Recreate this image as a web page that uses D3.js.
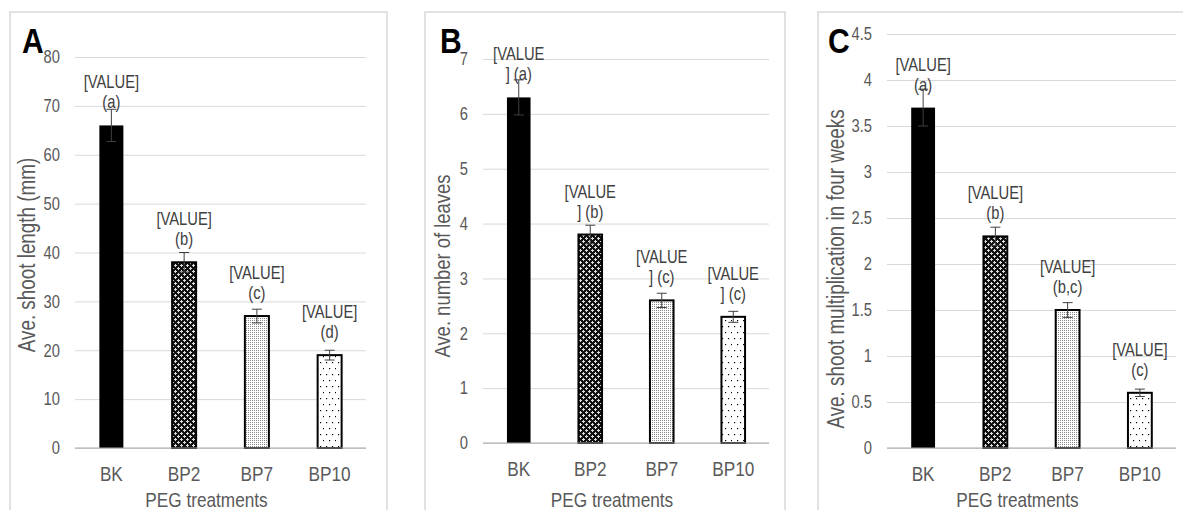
<!DOCTYPE html>
<html>
<head>
<meta charset="utf-8">
<script src="https://cdn.jsdelivr.net/npm/d3@7"></script>
<style>
  body { margin: 0; background: #fff; }
  svg text { font-family: "Liberation Sans", Arial, sans-serif; }
</style>
</head>
<body>
<svg id="chart" width="1183" height="510"></svg>
<script>
// data
const categories = ["BK", "BP2", "BP7", "BP10"];

const shootLength = [66, 38, 27, 19];
const shootLengthErr = [3.3, 2, 1.4, 1];
const shootLengthLetters = ["(a)", "(b)", "(c)", "(d)"];
const shootLengthTicks = [0, 10, 20, 30, 40, 50, 60, 70, 80];

const leaves = [6.3, 3.8, 2.6, 2.3];
const leavesErr = [0.32, 0.17, 0.13, 0.1];
const leavesLetters = ["(a)", "(b)", "(c)", "(c)"];
const leavesTicks = [0, 1, 2, 3, 4, 5, 6, 7];

const multiplication = [3.7, 2.3, 1.5, 0.6];
const multiplicationErr = [0.2, 0.1, 0.08, 0.04];
const multiplicationLetters = ["(a)", "(b)", "(b,c)", "(c)"];
const multiplicationTicks = [0, 0.5, 1, 1.5, 2, 2.5, 3, 3.5, 4, 4.5];

const svg = d3.select('#chart');

// the original uses a condensed face; squeeze the text horizontally around its anchor
const squeeze = (sel, sx) => {
  sel.each(function () {
    const t = d3.select(this);
    const first = t.select('tspan').node();
    const x = +(first ? first.getAttribute('x') : this.getAttribute('x')) || 0;
    const tr = t.attr('transform') || '';
    t.attr('transform', `${tr} translate(${x},0) scale(${sx},1) translate(${-x},0)`);
  });
};

// fill patterns for the bars
const defs = svg.append('defs');

// BP2: dark with small white crosses on a diagonal grid
const p2 = defs.append('pattern')
  .attr('id', 'pat-BP2')
  .attr('patternUnits', 'userSpaceOnUse')
  .attr('width', 6).attr('height', 6);
p2.append('rect').attr('width', 6).attr('height', 6).attr('fill', '#111');
[[1, 1], [4, 4]].forEach(([x, y]) => {
  p2.append('rect').attr('x', x).attr('y', y).attr('width', 1).attr('height', 1).attr('fill', '#fff');
  p2.append('rect').attr('x', x - 1).attr('y', y).attr('width', 3).attr('height', 1).attr('fill', '#ddd');
  p2.append('rect').attr('x', x).attr('y', y - 1).attr('width', 1).attr('height', 3).attr('fill', '#ddd');
});

// BP7: fine light mesh
const p7 = defs.append('pattern')
  .attr('id', 'pat-BP7')
  .attr('patternUnits', 'userSpaceOnUse')
  .attr('width', 2).attr('height', 2);
p7.append('rect').attr('width', 2).attr('height', 2).attr('fill', '#fff');
p7.append('rect').attr('width', 1).attr('height', 1).attr('fill', '#888');

// BP10: sparse dots
const p10 = defs.append('pattern')
  .attr('id', 'pat-BP10')
  .attr('patternUnits', 'userSpaceOnUse')
  .attr('width', 12).attr('height', 12);
p10.append('rect').attr('width', 12).attr('height', 12).attr('fill', '#fff');
[[2, 2], [8, 2], [5, 8], [11, 8]].forEach(([x, y]) => {
  p10.append('rect').attr('x', x).attr('y', y).attr('width', 1.2).attr('height', 1.2).attr('fill', '#000');
});

const barFill = {BK: '#000', BP2: 'url(#pat-BP2)', BP7: 'url(#pat-BP7)', BP10: 'url(#pat-BP10)'};

// panel layout
const panels = [
  {letter: 'A', box: [10, 387], plotX: [75, 366], plotY: [448, 57], max: 80,
   values: shootLength, err: shootLengthErr, letters: shootLengthLetters, ticks: shootLengthTicks,
   title: 'Ave. shoot length (mm)', titlePos: [27, 255], titleSize: 23, wrap: false, letterX: 22},
  {letter: 'B', box: [425, 785], plotX: [483, 769], plotY: [443, 59], max: 7,
   values: leaves, err: leavesErr, letters: leavesLetters, ticks: leavesTicks,
   title: 'Ave. number of leaves', titlePos: [442, 266], titleSize: 22.5, wrap: true, letterX: 440},
  {letter: 'C', box: [818, 1200], plotX: [887, 1176], plotY: [448, 34], max: 4.5,
   values: multiplication, err: multiplicationErr, letters: multiplicationLetters, ticks: multiplicationTicks,
   title: 'Ave. shoot multiplication in four weeks', titlePos: [836, 269], titleSize: 23, wrap: false, letterX: 828}
];

const drawPanel = (p) => {
  const g = svg.append('g');

  // frame
  g.append('rect')
    .attr('x', p.box[0]).attr('y', 12)
    .attr('width', p.box[1] - p.box[0]).attr('height', 530)
    .attr('fill', 'none')
    .attr('stroke', '#d9d9d9')
    .attr('stroke-width', 1.5);

  const xScale = d3.scaleBand()
    .domain(categories)
    .range(p.plotX)
    .paddingInner(0.67)
    .paddingOuter(0.335);

  const yScale = d3.scaleLinear()
    .domain([0, p.max])
    .range(p.plotY);

  // gridlines + y tick labels
  const yAxis = d3.axisLeft(yScale)
    .tickValues(p.ticks)
    .tickSize(-(p.plotX[1] - p.plotX[0]))
    .tickPadding(15)
    .tickFormat(d3.format('~g'));

  const ya = g.append('g')
    .attr('transform', `translate(${p.plotX[0]}, 0)`)
    .call(yAxis);
  ya.select('.domain').remove();
  ya.selectAll('line').attr('stroke', '#d9d9d9').attr('stroke-width', 1);
  ya.selectAll('text')
    .attr('fill', '#595959')
    .style('font-size', '18px')
    .call(squeeze, 0.82);

  // bars
  const data = categories.map((c, i) => ({cat: c, v: p.values[i], e: p.err[i], l: p.letters[i]}));

  g.selectAll('rect.bar')
    .data(data)
    .enter()
    .append('rect')
    .attr('class', 'bar')
    .attr('x', (d) => xScale(d.cat))
    .attr('y', (d) => yScale(d.v))
    .attr('width', xScale.bandwidth())
    .attr('height', (d) => yScale(0) - yScale(d.v))
    .attr('fill', (d) => barFill[d.cat])
    .attr('stroke', '#000')
    .attr('stroke-width', (d) => d.cat === 'BK' ? 0 : 2);

  // zero line
  g.append('line')
    .attr('x1', p.plotX[0]).attr('x2', p.plotX[1])
    .attr('y1', yScale(0)).attr('y2', yScale(0))
    .attr('stroke', '#a6a6a6')
    .attr('stroke-width', 1);

  // error bars
  const eb = g.selectAll('g.err')
    .data(data)
    .enter()
    .append('g')
    .attr('class', 'err')
    .attr('stroke', '#404040')
    .attr('stroke-width', 1);
  const cx = (d) => xScale(d.cat) + xScale.bandwidth() / 2;
  eb.append('line')
    .attr('x1', cx).attr('x2', cx)
    .attr('y1', (d) => yScale(d.v + d.e))
    .attr('y2', (d) => yScale(d.v - d.e));
  eb.append('line')
    .attr('x1', (d) => cx(d) - 5).attr('x2', (d) => cx(d) + 5)
    .attr('y1', (d) => yScale(d.v + d.e)).attr('y2', (d) => yScale(d.v + d.e));
  eb.append('line')
    .attr('x1', (d) => cx(d) - 5).attr('x2', (d) => cx(d) + 5)
    .attr('y1', (d) => yScale(d.v - d.e)).attr('y2', (d) => yScale(d.v - d.e));

  // data labels
  const lab = g.selectAll('text.lab')
    .data(data)
    .enter()
    .append('text')
    .attr('class', 'lab')
    .attr('text-anchor', 'middle')
    .attr('fill', '#404040')
    .style('font-size', '18px');
  lab.append('tspan')
    .attr('x', cx)
    .attr('y', (d) => yScale(d.v) - 37)
    .text(p.wrap ? '[VALUE' : '[VALUE]');
  lab.append('tspan')
    .attr('x', cx)
    .attr('y', (d) => yScale(d.v) - 17)
    .text((d) => p.wrap ? '] ' + d.l : d.l);
  lab.call(squeeze, 0.82);

  // x labels
  g.selectAll('text.xl')
    .data(categories)
    .enter()
    .append('text')
    .attr('class', 'xl')
    .attr('x', (d) => xScale(d) + xScale.bandwidth() / 2)
    .attr('y', yScale(0) + 33)
    .attr('text-anchor', 'middle')
    .attr('fill', '#595959')
    .style('font-size', '21px')
    .text((d) => d)
    .call(squeeze, 0.82);

  // axis titles
  g.append('text')
    .attr('x', (p.plotX[0] + p.plotX[1]) / 2 - 14)
    .attr('y', 507)
    .attr('text-anchor', 'middle')
    .attr('fill', '#595959')
    .style('font-size', '21px')
    .text('PEG treatments')
    .call(squeeze, 0.82);

  g.append('text')
    .attr('transform', `translate(${p.titlePos[0]}, ${p.titlePos[1]}) rotate(-90)`)
    .attr('text-anchor', 'middle')
    .attr('dominant-baseline', 'central')
    .attr('fill', '#595959')
    .style('font-size', p.titleSize + 'px')
    .text(p.title)
    .call(squeeze, 0.82);

  // panel letter
  g.append('text')
    .attr('x', p.letterX)
    .attr('y', 53)
    .attr('fill', '#000')
    .style('font-size', '35px')
    .style('font-weight', 'bold')
    .text(p.letter)
    .call(squeeze, 0.86);
};

panels.forEach(drawPanel);
</script>
</body>
</html>
